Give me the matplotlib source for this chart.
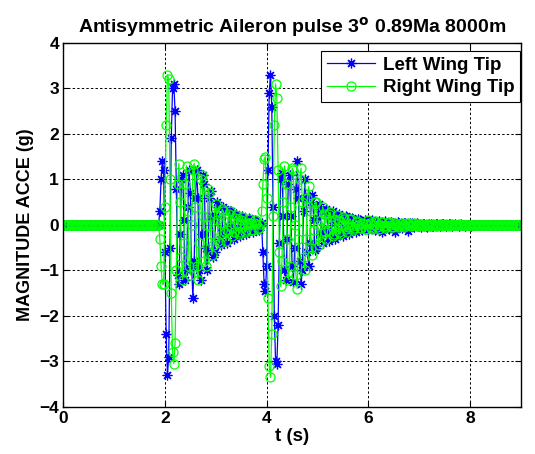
import matplotlib
matplotlib.use("Agg")
import matplotlib.pyplot as plt
import numpy as np

plt.rcParams['font.family'] = ['Liberation Sans', 'DejaVu Sans']
plt.rcParams['font.weight'] = 'bold'

# sample step of the recorded signal (s)
dt = 0.025

# Left wing tip acceleration (g)
left_pre = [0.0] * 76  # flat before the first pulse (t = 0 .. 1.875)
left_pulse1 = [
    0.3, 1.0, 1.4, 1.2, -0.6, -2.4, -3.3, -2.9, -0.5, 1.9,
    3.0, 3.1, 2.5, 0.8, -1.1, -1.3, -0.2, 1.0, 1.1, 0.1,
    -1.2, -1.0, 0.4, 1.2, 0.7, -0.9, -1.6, -0.8, 0.6, 1.2,
    0.6, -1.0, -1.2, -0.2, 1.1, 0.9, -0.5, -1.0, -0.6, 0.6,
    0.75, 0.2, -0.7, -0.6, 0.2, 0.5, 0.4, -0.3, -0.45, -0.1,
    0.4, 0.35, -0.2, -0.4, -0.05, 0.3, 0.3, -0.15, -0.3, -0.05,
    0.25, 0.2, -0.15, -0.25, 0.0, 0.2, 0.15, -0.15, -0.2, 0.0,
    0.15, 0.12, -0.1, -0.15, 0.0, 0.1, 0.08, -0.08, -0.1, 0.0,
]
left_pulse2 = [
    0.05, -0.6, -1.3, -1.45, -0.9, 1.2, 2.9, 3.3, 2.6, 0.4,
    -2.0, -3.0, -3.05, -2.2, -0.4, 1.0, 1.15, 0.2, -1.0, -1.2,
    -0.3, 0.9, 1.1, 0.2, -0.9, -1.25, -0.5, 0.8, 1.4, 0.6,
    -0.8, -1.3, -1.0, 0.3, 1.0, 0.6, -0.6, -0.9, -0.4, 0.5,
    0.65, 0.1, -0.55, -0.5, 0.15, 0.45, 0.35, -0.2, -0.4, -0.1,
    0.3, 0.35, -0.1, -0.35, -0.2, 0.2, 0.3, 0.05, -0.3, -0.25,
    0.1, 0.25, 0.15, -0.15, -0.25, -0.05, 0.2, 0.18, -0.1, -0.2,
    0.0, 0.15, 0.12, -0.1, -0.15, 0.0, 0.12, 0.1, -0.08, -0.12,
]
left_tail = [
    0.0, 0.1, 0.09, -0.05, -0.12, -0.03, 0.08, 0.1, -0.02, -0.1,
    -0.08, 0.05, 0.09, 0.0, -0.09, -0.16, 0.02, 0.08, 0.04, -0.06,
    -0.08, 0.0, 0.07, 0.05, -0.04, -0.15, -0.02, 0.06, 0.05, -0.03,
    -0.07, -0.01, 0.05, 0.04, -0.03, -0.14, -0.01, 0.04, 0.04, -0.02,
    -0.05, 0.0, 0.04, 0.03, -0.02, -0.05, 0.0, 0.03, 0.03, -0.02,
    -0.04, 0.0, 0.03, 0.02, -0.02, -0.03, 0.0, 0.03, 0.02, -0.01,
    -0.03, 0.0, 0.02, 0.02, -0.01, -0.03, 0.0, 0.02, 0.02, -0.01,
    -0.02, 0.0, 0.02, 0.01, -0.01, -0.02, 0.0, 0.02, 0.01, -0.01,
    -0.02, 0.0, 0.01, 0.01, -0.01, -0.02, 0.0, 0.01, 0.01, -0.01,
    -0.01, 0.0, 0.01, 0.01, -0.01, -0.01, 0.0, 0.01, 0.01, 0.0,
    -0.01, 0.0, 0.01, 0.01, 0.0, -0.01, 0.0, 0.01, 0.0, 0.0,
    -0.01, 0.0, 0.01, 0.0, 0.0, -0.01, 0.0, 0.01, 0.0, 0.0,
    0.0, 0.0, 0.0, 0.0, 0.0,
]

# Right wing tip acceleration (g)
right_pre = [0.0] * 76
right_pulse1 = [
    -0.3, -0.9, -1.3, -1.3, 0.4, 2.2, 3.3, 3.2, 1.0, -1.5,
    -2.8, -3.05, -2.6, -1.0, 0.9, 1.35, 0.5, -0.7, -1.2, -0.4,
    0.9, 1.3, 0.3, -0.9, -1.1, 0.0, 1.2, 1.35, 0.4, -0.9,
    -1.2, -0.4, 1.0, 1.1, 0.2, -0.8, -0.9, 0.0, 0.8, 0.7,
    -0.2, -0.65, -0.45, 0.25, 0.45, 0.1, -0.35, -0.4, 0.05, 0.35,
    0.3, -0.15, -0.35, -0.1, 0.25, 0.3, -0.05, -0.25, -0.15, 0.15,
    0.22, 0.05, -0.2, -0.15, 0.1, 0.18, 0.02, -0.15, -0.12, 0.05,
    0.13, 0.05, -0.1, -0.1, 0.05, 0.1, 0.02, -0.08, -0.06, 0.03,
]
right_pulse2 = [
    0.3, 0.9, 1.45, 1.5, 0.6, -1.6, -3.1, -3.35, -2.4, 0.2,
    2.2, 3.1, 2.8, 1.2, -0.6, -1.35, -0.8, 0.5, 1.3, 0.9,
    -0.3, -1.2, -0.9, 0.4, 1.25, 1.2, 0.0, -1.1, -1.4, -0.3,
    1.0, 1.25, 0.5, -0.7, -1.0, -0.3, 0.6, 0.85, 0.3, -0.5,
    -0.65, -0.1, 0.5, 0.5, 0.0, -0.45, -0.35, 0.1, 0.4, 0.25,
    -0.15, -0.3, -0.1, 0.25, 0.28, 0.0, -0.25, -0.2, 0.1, 0.22,
    0.1, -0.15, -0.2, 0.0, 0.18, 0.12, -0.08, -0.15, -0.05, 0.12,
    0.12, -0.03, -0.1, -0.06, 0.07, 0.09, 0.0, -0.07, -0.06, 0.04,
]
right_tail = [
    0.02, -0.08, -0.09, 0.03, 0.1, 0.05, -0.06, -0.09, 0.0, 0.08,
    0.07, -0.04, -0.08, -0.01, 0.07, 0.06, -0.03, -0.07, -0.02, 0.05,
    0.06, 0.0, -0.05, -0.04, 0.03, 0.05, 0.0, -0.05, -0.03, 0.02,
    0.05, 0.0, -0.04, -0.03, 0.02, 0.04, 0.0, -0.03, -0.03, 0.02,
    0.04, 0.0, -0.03, -0.02, 0.02, 0.03, 0.0, -0.03, -0.02, 0.01,
    0.03, 0.0, -0.02, -0.02, 0.01, 0.03, 0.0, -0.02, -0.02, 0.01,
    0.02, 0.0, -0.02, -0.01, 0.01, 0.02, 0.0, -0.02, -0.01, 0.01,
    0.02, 0.0, -0.01, -0.01, 0.01, 0.02, 0.0, -0.01, -0.01, 0.01,
    0.01, 0.0, -0.01, -0.01, 0.01, 0.01, 0.0, -0.01, -0.01, 0.0,
    0.01, 0.0, -0.01, 0.0, 0.01, 0.01, 0.0, -0.01, 0.0, 0.0,
    0.01, 0.0, -0.01, 0.0, 0.0, 0.01, 0.0, -0.01, 0.0, 0.0,
    0.0, 0.0, -0.01, 0.0, 0.0, 0.01, 0.0, 0.0, 0.0, 0.0,
    0.0, 0.0, 0.0, 0.0, 0.0,
]

left = np.array(left_pre + left_pulse1 + left_pulse2 + left_tail)
right = np.array(right_pre + right_pulse1 + right_pulse2 + right_tail)
t = np.arange(len(left)) * dt

x_ticks = [0, 2, 4, 6, 8]
y_ticks = [-4, -3, -2, -1, 0, 1, 2, 3, 4]

fig = plt.figure(figsize=(5.35, 4.54), dpi=100)
ax = fig.add_axes([0.118, 0.1035, 0.856, 0.802])

ax.plot(t, left, color=(0, 0, 1), linewidth=0.9, marker=(8, 2, 0),
        markersize=7, markeredgewidth=0.9, label='Left Wing Tip')
ax.plot(t, right, color=(0, 1, 0), linewidth=0.9, marker='o',
        markersize=6.5, markerfacecolor='none', markeredgewidth=0.9,
        label='Right Wing Tip')

ax.set_xlim(0, 9)
ax.set_ylim(-4, 4)
ax.set_xticks(x_ticks)
ax.set_yticks(y_ticks)
ax.tick_params(direction='in', top=True, right=True, length=4,
               labelsize=12.5, pad=3)
for lbl in ax.get_xticklabels() + ax.get_yticklabels():
    lbl.set_fontweight('bold')

ax.grid(True, color='black', linestyle=(0, (2.5, 2.2)), linewidth=0.7)
for s in ax.spines.values():
    s.set_linewidth(1.0)

ax.set_title(r'Antisymmetric Aileron pulse 3$^\mathbf{o}$ 0.89Ma 8000m',
             fontsize=14, fontweight='bold', pad=7)
ax.set_xlabel('t (s)', fontsize=13.5, fontweight='bold', labelpad=1)
ax.set_ylabel('MAGNITUDE ACCE (g)', fontsize=13, fontweight='bold', labelpad=4)

leg = ax.legend(loc='upper right', bbox_to_anchor=(0.998, 0.978),
                borderaxespad=0, fancybox=False, framealpha=1,
                edgecolor='black', prop={'weight': 'bold', 'size': 13.5},
                handlelength=2.6, handletextpad=0.4, borderpad=0.3,
                labelspacing=0.3)
leg.get_frame().set_linewidth(0.8)

fig.savefig('out.png', dpi=100)
